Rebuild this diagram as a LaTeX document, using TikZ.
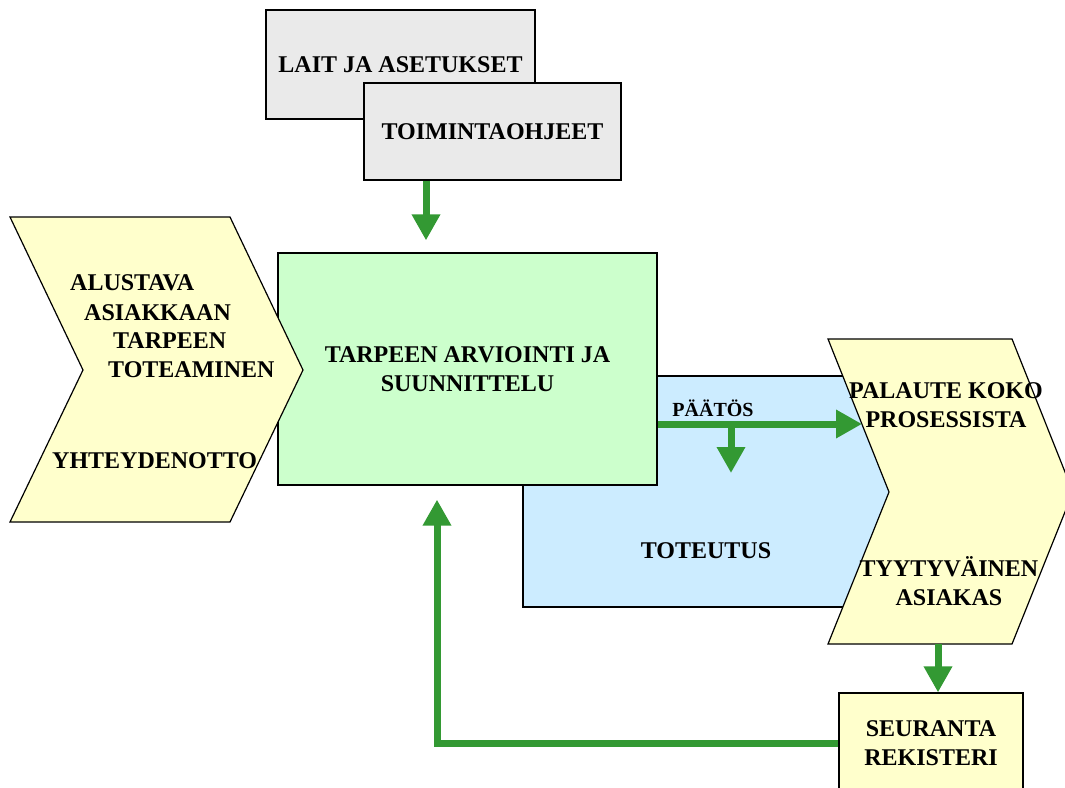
\documentclass[tikz,border=0pt]{standalone}
\usepackage{fontspec}
\setmainfont{Liberation Serif}
\usetikzlibrary{arrows.meta,positioning}

\definecolor{chevyellow}{HTML}{FFFFCC}
\definecolor{boxgreen}{HTML}{CCFFCC}
\definecolor{boxblue}{HTML}{CCECFF}
\definecolor{boxgray}{HTML}{EAEAEA}
\definecolor{flowgreen}{HTML}{339933}

\tikzset{
  box/.style={draw=black, line width=1.2pt, inner sep=0pt},
  chevron/.style={draw=black, line width=1.2pt, fill=chevyellow},
  lbl/.style={font=\bfseries\fontsize{24}{28.5}\selectfont, align=center, inner sep=0pt},
  smalllbl/.style={font=\bfseries\fontsize{20}{24}\selectfont, inner sep=0pt},
  flow/.style={draw=flowgreen, line width=7pt, -{Triangle[length=26pt,width=27pt]}},
}

\begin{document}
\begin{tikzpicture}[x=1pt,y=-1pt]
    \useasboundingbox (0,0) rectangle (1065,787);

    % Rules and instructions
    \node[box, lbl, fill=boxgray, minimum width=269pt, minimum height=109pt] (lait) at (400.5,64.5) {LAIT JA ASETUKSET};
    \node[box, lbl, fill=boxgray, minimum width=257pt, minimum height=97pt] (toimi) at (492.5,131.5) {TOIMINTAOHJEET};

    % Implementation and planning
    \node[box, fill=boxblue, minimum width=377pt, minimum height=231pt] (toteutus) at (711.5,491.5) {};
    \node[box, lbl, fill=boxgreen, minimum width=379pt, minimum height=232pt] (arvio) at (467.5,369) {TARPEEN ARVIOINTI JA\\SUUNNITTELU};
    \node[lbl] (toteutus-txt) at (706,551) {TOTEUTUS};

    % Chevrons
    \draw[chevron] (10,217) -- (230,217) -- (303,370) -- (230,522) -- (10,522) -- (83,370) -- cycle;
    \draw[chevron] (828,339) -- (1012,339) -- (1073,492) -- (1012,644) -- (828,644) -- (889,492) -- cycle;

    % Texts of the chevrons
    \node[lbl, anchor=west] (alustava) at (70,283) {ALUSTAVA};
    \node[lbl, anchor=west] (asiakkaan) at (84,313) {ASIAKKAAN};
    \node[lbl, anchor=west] (tarpeen) at (113,341) {TARPEEN};
    \node[lbl, anchor=west] (toteaminen) at (108,370) {TOTEAMINEN};
    \node[lbl, anchor=west] (yhteys) at (52,461) {YHTEYDENOTTO};
    \node[lbl] (palaute) at (946,405) {PALAUTE KOKO\\PROSESSISTA};
    \node[lbl] (tyytyvainen) at (949,581) {TYYTYVÄINEN\\ASIAKAS};

    % Follow-up
    \node[box, lbl, fill=chevyellow, minimum width=184pt, minimum height=100pt] (seuranta) at (931,743) {SEURANTA\\REKISTERI};

    % Connection points
    \coordinate (palaute-in) at (862,424);
    \coordinate (palaute-out) at (938,644);
    \coordinate (split) at (731,424);
    \coordinate (toteutus-in) at (731,473);

    % Flow arrows
    \draw[flow, shorten >=12pt] ([xshift=-66.5pt]toimi.south) -- ([xshift=-66.5pt]toimi.south |- arvio.north);
    \draw[flow] ([yshift=-55pt]arvio.east) -- ([yshift=-55pt]arvio.east -| palaute-in);
    \draw[flow] (split) -- (toteutus-in);
    \draw[flow] (palaute-out) -- (palaute-out |- seuranta.north);
    \draw[flow, shorten >=14pt] (seuranta.west) -| ([xshift=-30.5pt]arvio.south);

    \node[smalllbl] (paatos) at (713,408) {PÄÄTÖS};
\end{tikzpicture}
\end{document}
